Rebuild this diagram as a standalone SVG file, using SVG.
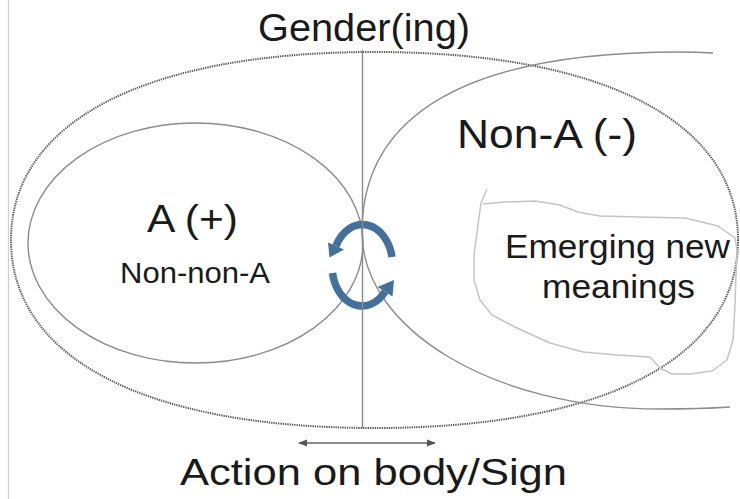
<svg xmlns="http://www.w3.org/2000/svg" width="740" height="499" viewBox="0 0 740 499">
<defs>
<style>
.t{font-family:"Liberation Sans",Arial,sans-serif;fill:#1a1a1a;text-anchor:middle}
.solid{fill:none;stroke:#8c8c8c;stroke-width:1.4}
.dotted{fill:none;stroke:#555555;stroke-width:2;stroke-dasharray:1.3 1}
.blob{fill:none;stroke:#c4c4c4;stroke-width:1.5;stroke-linejoin:round}
.cyc{fill:none;stroke:#44709c;stroke-width:7.5}
.cychead{fill:#44709c}
.conn{fill:none;stroke:#8a8a8a;stroke-width:1.4}
</style>
<marker id="ah" viewBox="0 0 10 10" refX="9" refY="5" markerWidth="6" markerHeight="6" orient="auto-start-reverse">
<path d="M0,1 L10,5 L0,9 Z" fill="#555"/>
</marker>
</defs>
<rect width="740" height="499" fill="#ffffff"/>
<line x1="8.5" y1="0" x2="8.5" y2="499" stroke="#d0d0d0" stroke-width="1.2"/>

<g id="gendering">
<path class="dotted" d="M738 240 C738 358.4 603.5 428 374.5 428 C145.5 428 11 358.4 11 240 C11 121.6 145.5 52 374.5 52 C603.5 52 738 121.6 738 240 Z"/>
<text class="t" x="364" y="41" font-size="38" textLength="212" lengthAdjust="spacingAndGlyphs">Gender(ing)</text>
</g>

<g id="node-a">
<ellipse class="solid" cx="195.5" cy="243" rx="167.5" ry="120"/>
<text class="t" x="192.5" y="232" font-size="38" textLength="91" lengthAdjust="spacingAndGlyphs">A (+)</text>
<text class="t" x="195" y="283" font-size="30" textLength="150" lengthAdjust="spacingAndGlyphs">Non-non-A</text>
</g>

<g id="node-non-a">
<path class="solid" d="M713 53 Q697 52 680 52 C470 52 362 113 362 232 C362 330 495 409 660 409 Q700 409 730 407"/>
<text class="t" x="547" y="148" font-size="41" textLength="180" lengthAdjust="spacingAndGlyphs">Non-A (-)</text>
</g>

<g id="node-emerging">
<polyline class="blob" points="487,189 481,203 478,225 474,255 474,280 480,300 492,315 517,328 550,343 583,352 617,355 650,357 660,368 672,374 690,374 712,371 727,360 733,340 735,305 736,275 737,250 735,238 718,226 685,218 640,217 600,216 578,212 560,205 535,201 505,202 483,204"/>
<text class="t" x="617.5" y="258" font-size="33" textLength="225" lengthAdjust="spacingAndGlyphs">Emerging new</text>
<text class="t" x="618.5" y="298" font-size="33" textLength="153" lengthAdjust="spacingAndGlyphs">meanings</text>
</g>

<g id="cycle">
<path class="cyc" d="M392 257 A30 40 0 0 0 336 246"/>
<polygon class="cychead" points="344,249.5 328,242.5 329.5,257.5"/>
<path class="cyc" d="M332.5 273 A30 40 0 0 0 385 291.7"/>
<polygon class="cychead" points="377.5,287 392.5,296.5 394,280"/>
</g>

<g id="connectors">
<line class="conn" x1="362.5" y1="50" x2="362.5" y2="428"/>
<line x1="299" y1="443" x2="435" y2="443" stroke="#666" stroke-width="1.5" marker-start="url(#ah)" marker-end="url(#ah)"/>
</g>

<g id="action">
<text class="t" x="373.5" y="485" font-size="37" textLength="387" lengthAdjust="spacingAndGlyphs">Action on body/Sign</text>
</g>
</svg>
